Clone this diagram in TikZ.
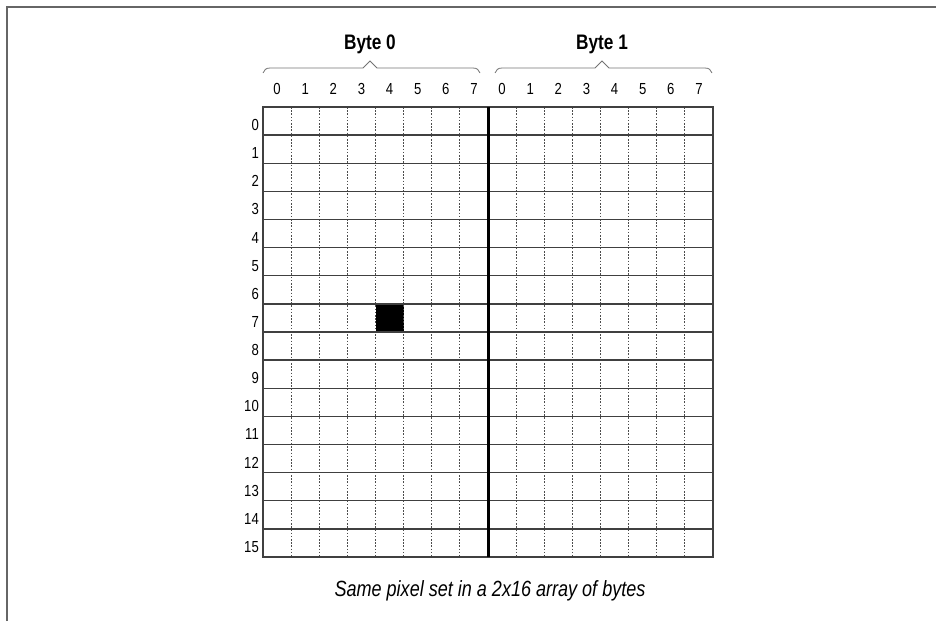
\documentclass[tikz,border=0pt]{standalone}
\usepackage{fontspec}
\setmainfont{Liberation Sans}[FakeStretch=0.82]
\begin{document}
\begin{tikzpicture}[x=1pt,y=-1pt,
  frameline/.style={draw=black!60,line width=2pt},
  gridline/.style={draw=black!75,line width=1.3pt},
  dotline/.style={draw=black!70,line width=0.9pt,dash pattern=on 1.6pt off 1.6pt},
  midline/.style={draw=black,line width=3pt},
  bracel/.style={draw=black!55,line width=0.8pt},
  collab/.style={font=\fontsize{16}{16}\selectfont,inner sep=0pt,anchor=center},
  rowlab/.style={font=\fontsize{16}{16}\selectfont,inner sep=0pt,anchor=east},
  bytelab/.style={font=\fontsize{21}{21}\selectfont\bfseries,inner sep=0pt,anchor=center},
  caplab/.style={font=\fontsize{22}{22}\selectfont\itshape,inner sep=0pt,anchor=center}]
\useasboundingbox (0,0) rectangle (936,621);
% frame (top and left)
\draw[frameline] (7,621) -- (7,7) -- (936,7);
% pixel
\fill[black] (375.5,303.9) rectangle (403.6,332);
% dotted verticals
\foreach \i in {1,...,15}{
  \ifnum\i=8\else
  \draw[dotline] ({263+\i*28.125},107) -- ({263+\i*28.125},557);
  \fi
}
% horizontal lines
\foreach \j in {1,...,15}{
  \draw[gridline] (263,{107+\j*28.125}) -- (713,{107+\j*28.125});
}
\draw[gridline] (263,107) rectangle (713,557);
\draw[midline] (488,107) -- (488,557);
% column labels
\foreach \i in {0,...,7}{
  \node[collab] (c\i) at ({263+(\i+0.5)*28.125},89) {\i};
  \node[collab] (d\i) at ({263+(\i+8.5)*28.125},89) {\i};
}
% row labels
\foreach \j in {0,...,15}{
  \node[rowlab] (r\j) at (259,{107+(\j+0.5)*28.125+4}) {\j};
}
% braces
\draw[bracel] (263,73) .. controls (264,70) and (266,68) .. (270,68) -- (363,68) -- (370,61) -- (377,68) -- (473,68) .. controls (477,68) and (479,70) .. (480,73);
\draw[bracel] (495,73) .. controls (496,70) and (498,68) .. (502,68) -- (595,68) -- (602,61) -- (609,68) -- (705,68) .. controls (709,68) and (711,70) .. (712,73);
\node[bytelab] (b0) at (370,44) {Byte 0};
\node[bytelab] (b1) at (602,44) {Byte 1};
\node[caplab] (cap) at (490,591) {Same pixel set in a 2x16 array of bytes};
\end{tikzpicture}
\end{document}
